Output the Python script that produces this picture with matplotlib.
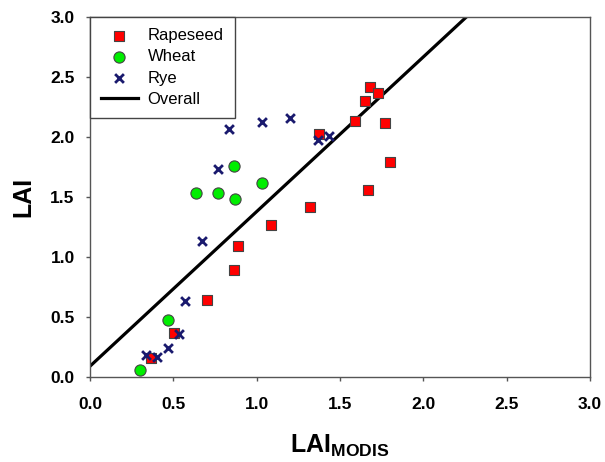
import matplotlib
matplotlib.use('Agg')
import matplotlib.pyplot as plt
import numpy as np

# data
rapeseed_x = [1.68, 1.726, 1.648, 1.59, 1.77, 1.376, 1.80, 1.666, 1.318, 1.086, 0.888, 0.866, 0.70, 0.504, 0.366]
rapeseed_y = [2.42, 2.37, 2.30, 2.13, 2.12, 2.025, 1.79, 1.56, 1.42, 1.27, 1.09, 0.89, 0.64, 0.37, 0.16]

wheat_x = [0.866, 1.034, 0.636, 0.77, 0.868, 0.47, 0.302]
wheat_y = [1.76, 1.62, 1.53, 1.53, 1.486, 0.475, 0.06]

rye_x = [0.836, 1.03, 0.768, 0.672, 1.20, 1.368, 1.434, 0.57, 0.534, 0.47, 0.338, 0.404]
rye_y = [2.07, 2.125, 1.73, 1.13, 2.16, 1.975, 2.01, 0.636, 0.355, 0.24, 0.186, 0.17]

fit_slope = 1.289
fit_intercept = 0.09

ticks = [0.0, 0.5, 1.0, 1.5, 2.0, 2.5, 3.0]

plt.rcParams['font.family'] = ['Liberation Sans', 'DejaVu Sans']
plt.rcParams['mathtext.fontset'] = 'custom'
plt.rcParams['mathtext.rm'] = 'Liberation Sans:bold'
plt.rcParams['mathtext.bf'] = 'Liberation Sans:bold'

fig = plt.figure(figsize=(6.05, 4.62), dpi=100)
ax = fig.add_axes([0.1488, 0.184, 0.8264, 0.779])

ax.scatter(rapeseed_x, rapeseed_y, marker='s', s=55, c='#ff0000', edgecolors='#444444',
           linewidths=0.8, label='Rapeseed', zorder=3)
ax.scatter(wheat_x, wheat_y, marker='o', s=65, c='#00ee00', edgecolors='#444444',
           linewidths=0.8, label='Wheat', zorder=3)
ax.scatter(rye_x, rye_y, marker='x', s=40, c='#1a1a6e', linewidths=2.0,
           label='Rye', zorder=3)

xl = np.array([0.0, 3.0])
ax.plot(xl, fit_slope * xl + fit_intercept, color='black', lw=2.3, label='Overall', zorder=2)

ax.set_xlim(0, 3)
ax.set_ylim(0, 3)
ax.set_xticks(ticks)
ax.set_yticks(ticks)
ax.set_xticklabels(['%.1f' % t for t in ticks], fontsize=12.5, fontweight='bold')
ax.set_yticklabels(['%.1f' % t for t in ticks], fontsize=12.5, fontweight='bold')
ax.tick_params(direction='out', length=3, width=1, color='#555555', top=False, right=False)
ax.tick_params(axis='x', pad=11.5)
ax.tick_params(axis='y', pad=8)
for sp in ax.spines.values():
    sp.set_linewidth(1.0)
    sp.set_color('#555555')

ax.set_xlabel(r'LAI$_{\mathrm{MODIS}}$', fontsize=18, fontweight='bold', labelpad=15)
ax.set_ylabel('LAI', fontsize=18, fontweight='bold', labelpad=11)

leg = ax.legend(loc='upper left', bbox_to_anchor=(0, 1), borderaxespad=0, fontsize=12,
                fancybox=False, framealpha=1, edgecolor='#444444', handlelength=2.2,
                labelspacing=0.38, borderpad=0.66, handletextpad=0.6)
leg.get_frame().set_linewidth(1.0)

fig.savefig('out.png', dpi=100)
